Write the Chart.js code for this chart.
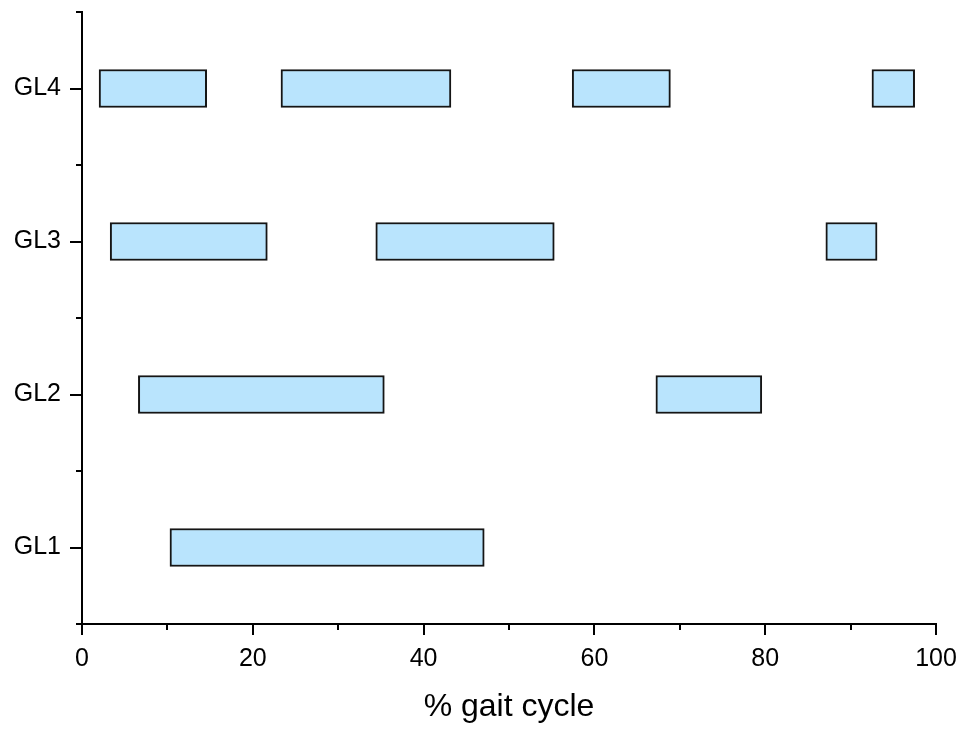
<!DOCTYPE html>
<html>
<head>
<meta charset="utf-8">
<script src="https://cdn.jsdelivr.net/npm/chart.js@4"></script>
<style>
  html, body { margin: 0; padding: 0; background: #fff; }
  canvas { display: block; }
</style>
</head>
<body>
<canvas id="chart" width="964" height="729"></canvas>
<script>
// rows from bottom to top
const rows = ['GL1', 'GL2', 'GL3', 'GL4'];

// [start, end] in % gait cycle
const gl1 = [[10.3, 47.1]];
const gl2 = [[6.6, 35.4], [67.2, 79.6]];
const gl3 = [[3.3, 21.7], [34.4, 55.3], [87.1, 93.1]];
const gl4 = [[2.0, 14.6], [23.3, 43.2], [57.4, 68.9], [92.5, 97.5]];

const xMajor = [0, 20, 40, 60, 80, 100];
const xMinor = [10, 30, 50, 70, 90];

const bars = [];
[gl1, gl2, gl3, gl4].forEach((segs, i) => {
  segs.forEach(s => bars.push({ x: s, y: i + 1 }));
});

const FONT = "'Liberation Sans', Arial, sans-serif";

// Origin-style tick marks (outward, major longer than minor)
const tickMarks = {
  id: 'tickMarks',
  afterDraw(chart) {
    const { ctx, scales: { x, y } } = chart;
    ctx.save();
    ctx.strokeStyle = '#000';
    ctx.lineWidth = 2;
    ctx.beginPath();
    xMajor.concat(xMinor).forEach(v => {
      const px = Math.round(x.getPixelForValue(v));
      const len = xMajor.includes(v) ? 11 : 6;
      ctx.moveTo(px, x.top);
      ctx.lineTo(px, x.top + len);
    });
    for (let v = 0.5; v <= 4.5; v += 0.5) {
      const py = Math.round(y.getPixelForValue(v));
      const len = Number.isInteger(v) ? 12 : 6;
      ctx.moveTo(y.right, py);
      ctx.lineTo(y.right - len, py);
    }
    ctx.stroke();
    ctx.restore();
  }
};

new Chart(document.getElementById('chart'), {
  type: 'bar',
  data: {
    datasets: [{
      data: bars,
      backgroundColor: '#B9E4FD',
      borderColor: '#151515',
      borderWidth: 2,
      borderSkipped: false,
      barThickness: 38,
    }],
  },
  plugins: [tickMarks],
  options: {
    indexAxis: 'y',
    responsive: false,
    animation: false,
    layout: { padding: { top: 12, right: 28, left: 0, bottom: 0 } },
    plugins: { legend: { display: false }, tooltip: { enabled: false } },
    scales: {
      x: {
        type: 'linear',
        min: 0,
        max: 100,
        grid: { display: false, drawTicks: false, tickLength: 0 },
        border: { display: true, color: '#000', width: 2 },
        afterBuildTicks: s => { s.ticks = xMajor.map(v => ({ value: v })); },
        ticks: {
          color: '#000',
          padding: 20,
          maxRotation: 0,
          font: { family: FONT, size: 25 },
        },
        title: {
          display: true,
          text: '% gait cycle',
          color: '#000',
          font: { family: FONT, size: 32 },
          padding: { top: 6, bottom: 3 },
        },
        afterFit: s => {
          s.height = 105;
          s.paddingLeft = 0;
          s.paddingRight = 0;
        },
      },
      y: {
        type: 'linear',
        min: 0.5,
        max: 4.5,
        offset: false,
        grid: { display: false, drawTicks: false, tickLength: 0 },
        border: { display: true, color: '#000', width: 2 },
        afterBuildTicks: s => { s.ticks = rows.map((_, i) => ({ value: i + 1 })); },
        ticks: {
          color: '#000',
          padding: 21,
          font: { family: FONT, size: 25 },
          callback: v => rows[v - 1],
        },
        afterFit: s => {
          s.width = 82;
          s.paddingTop = 0;
          s.paddingBottom = 0;
        },
      },
    },
  },
});
</script>
</body>
</html>
